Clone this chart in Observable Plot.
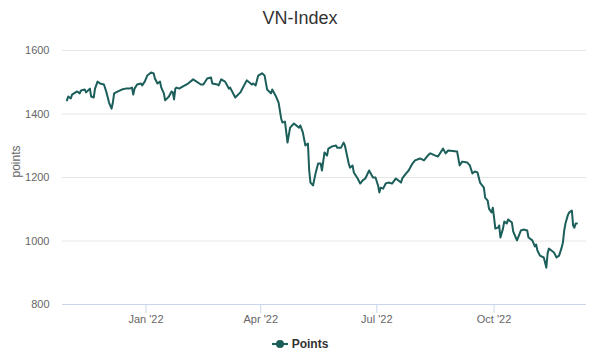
<!DOCTYPE html>
<html>
<head>
<meta charset="utf-8">
<script src="https://cdn.jsdelivr.net/npm/d3@7"></script>
<script src="https://cdn.jsdelivr.net/npm/@observablehq/plot@0.6"></script>
<style>
  html, body { margin: 0; padding: 0; background: #fff; overflow: hidden; }
  #wrap { width: 600px; height: 351px; position: relative; font-family: "Liberation Sans", Arial, sans-serif; overflow: hidden; }
  #title { height: 36px; line-height: 36px; text-align: center; font-size: 18px; color: #333; }
  #legend { position: absolute; top: 336px; left: 0; width: 600px; height: 16px; line-height: 16px; display: flex; justify-content: center; align-items: center; font-size: 12px; font-weight: 600; color: #333; }
  #legend svg { margin-right: 4px; }
</style>
</head>
<body>
<div id="wrap">
  <div id="title">VN-Index</div>
  <div id="chart"></div>
  <div id="legend"></div>
</div>
<script>
const titleText = "VN-Index";
const seriesName = "Points";
const yAxisTitle = "points";

const dates = [
  "2021-10-31","2021-11-01","2021-11-03","2021-11-04","2021-11-08","2021-11-10","2021-11-11","2021-11-14","2021-11-15","2021-11-18",
  "2021-11-19","2021-11-21","2021-11-22","2021-11-24","2021-11-26","2021-11-29","2021-12-01","2021-12-03","2021-12-05","2021-12-06",
  "2021-12-07","2021-12-10","2021-12-13","2021-12-16","2021-12-19","2021-12-21","2021-12-22","2021-12-23","2021-12-25","2021-12-28",
  "2021-12-29","2021-12-31","2022-01-02","2022-01-05","2022-01-07","2022-01-08","2022-01-10","2022-01-12","2022-01-13","2022-01-15",
  "2022-01-16","2022-01-19","2022-01-21","2022-01-22","2022-01-23","2022-01-24","2022-01-25","2022-01-27","2022-01-30","2022-02-03",
  "2022-02-07","2022-02-13","2022-02-15","2022-02-18","2022-02-21","2022-02-22","2022-02-26","2022-02-27","2022-03-01","2022-03-04",
  "2022-03-07","2022-03-08","2022-03-12","2022-03-16","2022-03-21","2022-03-25","2022-03-26","2022-03-28","2022-03-30","2022-04-02",
  "2022-04-04","2022-04-06","2022-04-09","2022-04-10","2022-04-13","2022-04-15","2022-04-17","2022-04-18","2022-04-20","2022-04-22",
  "2022-04-24","2022-04-27","2022-05-01","2022-05-02","2022-05-04","2022-05-06","2022-05-08","2022-05-09","2022-05-10","2022-05-12",
  "2022-05-14","2022-05-16","2022-05-18","2022-05-19","2022-05-21","2022-05-23","2022-05-24","2022-05-27","2022-05-30","2022-05-31",
  "2022-06-03","2022-06-05","2022-06-06","2022-06-09","2022-06-10","2022-06-12","2022-06-13","2022-06-16","2022-06-18","2022-06-20",
  "2022-06-22","2022-06-25","2022-06-28","2022-06-30","2022-07-02","2022-07-03","2022-07-04","2022-07-06","2022-07-08","2022-07-10",
  "2022-07-13","2022-07-16","2022-07-20","2022-07-21","2022-07-24","2022-07-26","2022-07-29","2022-07-31","2022-08-04","2022-08-07",
  "2022-08-10","2022-08-12","2022-08-16","2022-08-18","2022-08-22","2022-08-24","2022-08-26","2022-09-02","2022-09-04","2022-09-06",
  "2022-09-10","2022-09-12","2022-09-14","2022-09-16","2022-09-18","2022-09-20","2022-09-23","2022-09-24","2022-09-26","2022-09-27",
  "2022-09-29","2022-09-30","2022-10-01","2022-10-02","2022-10-04","2022-10-05","2022-10-06","2022-10-08","2022-10-09","2022-10-11",
  "2022-10-12","2022-10-15","2022-10-16","2022-10-18","2022-10-19","2022-10-22","2022-10-24","2022-10-27","2022-10-28","2022-10-31",
  "2022-11-02","2022-11-03","2022-11-04","2022-11-06","2022-11-09","2022-11-10","2022-11-11","2022-11-12","2022-11-13","2022-11-15",
  "2022-11-17","2022-11-19","2022-11-21","2022-11-23","2022-11-24","2022-11-25","2022-11-26","2022-11-28","2022-11-29","2022-12-01",
  "2022-12-02","2022-12-03","2022-12-04","2022-12-05"
];

const values = [
  1443,1455,1449,1461,1471,1465,1474,1477,1468,1480,
  1455,1452,1480,1502,1496,1493,1468,1436,1417,1436,
  1465,1471,1477,1480,1480,1483,1461,1480,1493,1496,
  1490,1502,1521,1531,1528,1512,1496,1502,1483,1465,
  1443,1455,1471,1468,1446,1480,1483,1480,1487,1496,
  1509,1493,1493,1512,1515,1496,1493,1490,1509,1502,
  1480,1483,1452,1468,1506,1493,1496,1490,1521,1528,
  1521,1477,1465,1477,1455,1436,1386,1373,1376,1310,
  1357,1370,1357,1364,1342,1301,1307,1222,1184,1175,
  1213,1244,1244,1222,1279,1269,1291,1298,1301,1294,
  1294,1310,1301,1244,1231,1238,1216,1197,1181,1191,
  1197,1222,1200,1200,1175,1153,1168,1165,1181,1184,
  1181,1197,1184,1197,1213,1222,1244,1254,1260,1254,
  1269,1276,1269,1266,1291,1276,1285,1282,1238,1250,
  1247,1238,1213,1219,1216,1184,1168,1137,1127,1102,
  1090,1105,1074,1039,1042,1049,1011,1039,1061,1055,
  1068,1058,1030,1011,1002,1033,1036,1033,1011,1002,
  983,989,970,954,948,932,916,961,976,970,
  964,948,954,979,995,1033,1055,1083,1090,1096,
  1049,1042,1055,1055
];

const xTickDates = ["2022-01-01","2022-04-01","2022-07-01","2022-10-01"];
const xTickLabels = ["Jan '22","Apr '22","Jul '22","Oct '22"];
const yTicks = [800, 1000, 1200, 1400, 1600];

const lineColor = "#1b5e5a";

const data = dates.map((d, i) => ({date: new Date(d), value: values[i]}));
const xTicks = xTickDates.map(d => new Date(d));
const labelOf = new Map(xTicks.map((d, i) => [+d, xTickLabels[i]]));

const chart = Plot.plot({
  width: 600,
  height: 296,
  marginTop: 14,
  marginBottom: 28,
  marginLeft: 62,
  marginRight: 14,
  style: {fontFamily: "'Liberation Sans', Arial, sans-serif", fontSize: "11px", background: "#fff", overflow: "visible"},
  x: {type: "utc", domain: [new Date("2021-10-27T12:00:00Z"), new Date("2022-12-12T12:00:00Z")]},
  y: {domain: [800, 1600]},
  marks: [
    Plot.gridY(yTicks, {stroke: "#e6e6e6", strokeOpacity: 1}),
    Plot.ruleY([800], {stroke: "#ccd6eb", strokeOpacity: 1}),
    Plot.axisY(yTicks, {tickSize: 0, tickPadding: 13, fill: "#666", fontSize: 11, label: null, tickFormat: d => String(d)}),
    Plot.axisX(xTicks, {tickSize: 9, tickPadding: 2, stroke: "#ccd6eb", fill: "#666", fontSize: 11, label: null,
      tickFormat: d => labelOf.get(+d)}),
    Plot.text([yAxisTitle], {frameAnchor: "left", dx: -46, rotate: -90, fill: "#666", fontSize: 12}),
    Plot.lineY(data, {x: "date", y: "value", stroke: lineColor, strokeWidth: 2})
  ]
});
document.getElementById("chart").appendChild(chart);

document.getElementById("title").textContent = titleText;
const legend = document.getElementById("legend");
legend.innerHTML = `<svg width="16" height="12"><line x1="0" y1="6" x2="16" y2="6" stroke="${lineColor}" stroke-width="2"/><circle cx="8" cy="6" r="4" fill="${lineColor}"/></svg><span></span>`;
legend.querySelector("span").textContent = seriesName;
</script>
</body>
</html>
